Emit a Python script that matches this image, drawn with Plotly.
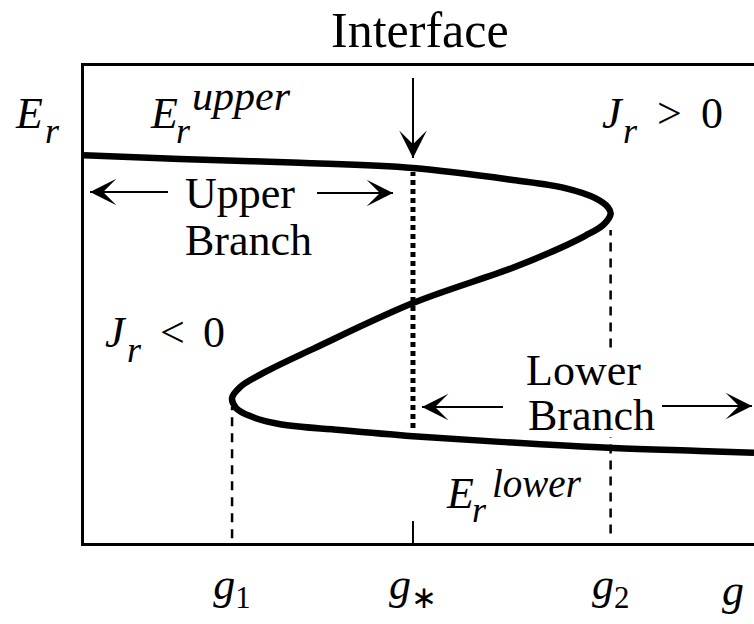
import plotly.graph_objects as go

# ---- data -------------------------------------------------------------
# S-shaped response E_r(g): upper branch -> unstable middle -> lower branch
g_curve = [0.00, 1.43, 3.22, 4.91, 6.40, 7.18, 7.63, 7.82, 7.86, 7.75, 7.48,
           7.10, 6.40, 4.91, 3.42, 2.67, 2.33, 2.21, 2.27, 2.48, 2.93, 3.82,
           4.91, 6.21, 7.90, 9.19, 10.00]
E_curve = [8.13, 8.05, 7.97, 7.86, 7.61, 7.44, 7.23, 7.04, 6.90, 6.67, 6.44,
           6.18, 5.77, 5.03, 4.07, 3.56, 3.27, 3.04, 2.83, 2.66, 2.49, 2.37,
           2.24, 2.12, 1.99, 1.93, 1.89]

# characteristic abscissae: lower fold, interface, upper fold
G1, G_STAR, G2 = 2.21, 4.91, 7.86
tick_vals = [G1, G_STAR, G2]
tick_subs = ["1", "\u2217", "2"]

# ---- geometry of the plotting area (px) ---------------------------------
FIG_W, FIG_H = 754, 624
L, T, R, B = 84, 66, 0, 81
PW, PH = FIG_W - L - R, FIG_H - T - B
SERIF = "Liberation Serif, Times New Roman, serif"
tick_text = ["<i>g</i><sub>{}</sub>".format(s) for s in tick_subs]


def paper(x, y):
    """canvas pixel -> paper fraction"""
    return (x - L) / PW, (T + PH - y) / PH


def label(txt, x, baseline, size, xanchor="left", italic=False):
    top = baseline - 0.891 * size
    px_, py_ = paper(x, top)
    if italic:
        txt = "<i>" + txt + "</i>"
    return dict(text=txt, x=px_, y=py_, xref="paper", yref="paper",
                xanchor=xanchor, yanchor="top", showarrow=False,
                borderpad=0, borderwidth=0,
                font=dict(family=SERIF, size=size, color="black"))


def arrow_head(x0, y0, x1, y1, size=2.2):
    """arrowhead at (x1,y1) pointing away from (x0,y0), canvas pixels"""
    px_, py_ = paper(x1, y1)
    return dict(text="", x=px_, y=py_, xref="paper", yref="paper",
                ax=x0 - x1, ay=y0 - y1, axref="pixel", ayref="pixel",
                width=1, height=1,
                showarrow=True, arrowhead=3, arrowsize=size, arrowwidth=2,
                arrowcolor="black", standoff=0, startstandoff=0,
                borderpad=0, borderwidth=0,
                font=dict(family=SERIF, size=1, color="black"))


def arrow_shaft(x0, y0, x1, y1):
    a = paper(x0, y0)
    b = paper(x1, y1)
    return dict(type="line", xref="paper", yref="paper",
                x0=a[0], y0=a[1], x1=b[0], y1=b[1],
                line=dict(color="black", width=2))


fig = go.Figure()
fig.add_trace(go.Scatter(x=g_curve, y=E_curve, mode="lines",
                         line=dict(color="black", width=6.5, shape="spline", smoothing=1.0),
                         hoverinfo="skip"))

shapes = []
dash_style = dict(color="black", width=2.5, dash="9px,7px")
# vertical guides from the folds down to the g axis
shapes.append(dict(type="line", xref="x", yref="y", x0=G1, x1=G1, y0=0.1, y1=2.85, line=dash_style))
shapes.append(dict(type="line", xref="x", yref="y", x0=G2, x1=G2, y0=0.2, y1=2.22, line=dash_style))
shapes.append(dict(type="line", xref="x", yref="y", x0=G2, x1=G2, y0=4.1, y1=6.56, line=dash_style))
# interface position
shapes.append(dict(type="line", xref="x", yref="y", x0=G_STAR, x1=G_STAR, y0=2.41, y1=7.78,
                   line=dict(color="black", width=5, dash="5px,4px")))
# tick mark at g*
shapes.append(dict(type="line", xref="x", yref="y", x0=G_STAR, x1=G_STAR, y0=0, y1=0.46,
                   line=dict(color="black", width=2)))

# arrows: (tail x, tail y, tip x, tip y) in canvas pixels
arrows = [
    (413, 78, 413, 158),   # interface marker
    (168, 192, 90, 192),   # upper branch, leftwards
    (317, 193, 393, 193),  # upper branch, rightwards
    (503, 407, 422, 407),  # lower branch, leftwards
    (662, 406, 752, 406),  # lower branch, rightwards
]
for a in arrows:
    shapes.append(arrow_shaft(*a))

ann = [
    label("Interface", 420, 47, 50, xanchor="center"),
    # E_r (axis name)
    label("E", 15, 128, 44, italic=True),
    label("r", 45, 143, 36, italic=True),
    # E_r^upper
    label("E", 150, 128, 44, italic=True),
    label("r", 176, 143, 36, italic=True),
    label("upper", 192, 110, 42, italic=True),
    # J_r > 0
    label("J", 602, 128, 44, italic=True),
    label("r", 623, 143, 36, italic=True),
    label("&gt;", 657, 128, 44),
    label("0", 701, 128, 44),
    # upper branch
    label("Upper", 185, 208, 44),
    label("Branch", 185, 255, 44),
    # J_r < 0
    label("J", 105, 347, 44, italic=True),
    label("r", 127, 362, 36, italic=True),
    label("&lt;", 160, 347, 44),
    label("0", 203, 347, 44),
    # lower branch
    label("Lower", 526, 385, 44),
    label("Branch", 528, 430, 44),
    # E_r^lower
    label("E", 446, 508, 44, italic=True),
    label("r", 472, 522, 36, italic=True),
    label("lower", 492, 497, 39, italic=True),
    # abscissa name
    label("g", 733, 605, 44, xanchor="center", italic=True),
]
ann.append(arrow_head(*arrows[0], size=2.3))
for a in arrows[1:]:
    ann.append(arrow_head(*a))

fig.update_layout(
    width=FIG_W, height=FIG_H,
    margin=dict(l=L, r=R, t=T, b=B, pad=0),
    paper_bgcolor="white", plot_bgcolor="white",
    showlegend=False,
    shapes=shapes, annotations=ann,
    xaxis=dict(range=[0, 10], showgrid=False, zeroline=False,
               showline=True, linecolor="black", linewidth=2.5, mirror=True,
               ticks="", tickvals=tick_vals, ticktext=tick_text,
               tickfont=dict(family=SERIF, size=44, color="black"),
               ticklabelstandoff=0, fixedrange=True),
    yaxis=dict(range=[0, 10], showgrid=False, zeroline=False,
               showline=True, linecolor="black", linewidth=2.5, mirror=False,
               ticks="", showticklabels=False, fixedrange=True),
)

fig.write_html("out.html")
